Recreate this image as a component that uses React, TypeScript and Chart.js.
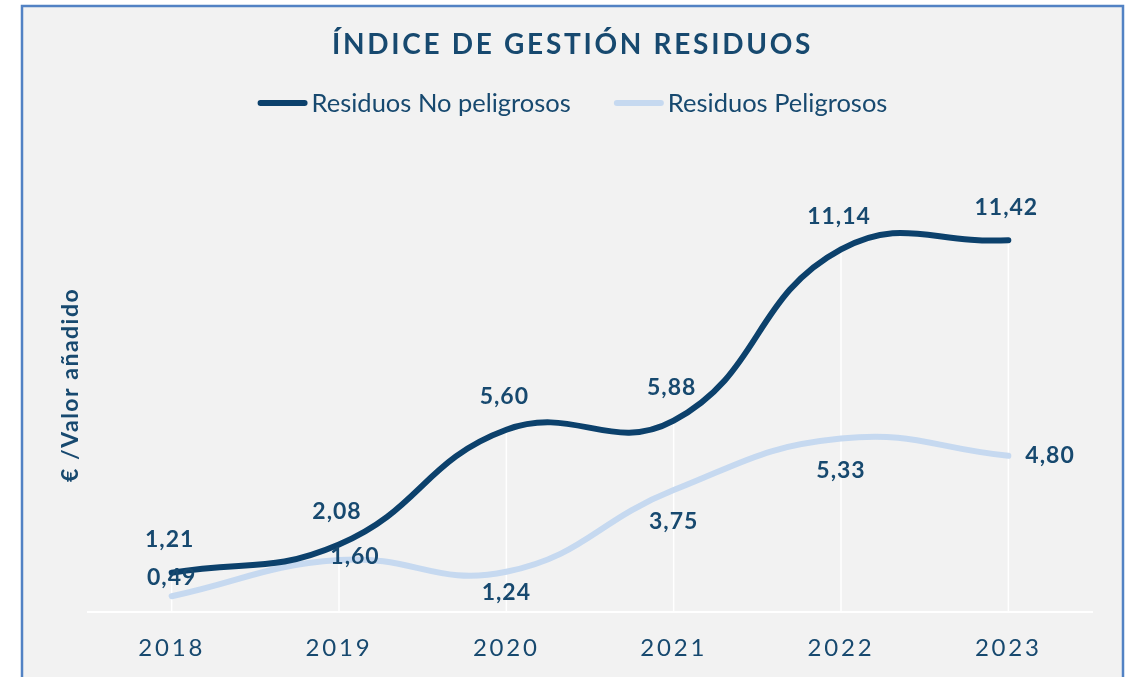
import React, { useEffect, useRef } from 'react';
import { Chart, registerables } from 'chart.js';

Chart.register(...registerables);

// ---- data ----
const years = ['2018', '2019', '2020', '2021', '2022', '2023'];
const noPeligrosos = [1.21, 2.08, 5.6, 5.88, 11.14, 11.42];
const peligrosos = [0.49, 1.6, 1.24, 3.75, 5.33, 4.8];
const seriesNames = ['Residuos No peligrosos', 'Residuos Peligrosos'];
const titleText = 'ÍNDICE DE GESTIÓN RESIDUOS';
const yTitleText = '€ /Valor añadido';
const yMin = 0;
const yMax = 15;

// ---- label placement (style) ----
const darkPlacement = ['above', 'above', 'above', 'above', 'above', 'above'];
const lightPlacement = ['aboveNear', 'near', 'belowNear', 'below', 'below', 'right'];
const OFFSETS: Record<string, [number, number, CanvasTextAlign]> = {
  above: [-2, -33, 'center'],
  aboveNear: [0, -19, 'center'],
  near: [16, -4, 'center'],
  below: [0, 32, 'center'],
  belowNear: [0, 21, 'center'],
  right: [17, 0, 'left'],
};

const DARK = '#0c416c';
const LIGHT = '#c6d9f0';
const TEXT = '#17496f';
const FONT = 'Lato';
const FRAME = '#5282c4';
const BG = '#f2f2f2';

const fmt = (v: number) => v.toFixed(2).replace('.', ',');

function patchSpacing(obj: any, method: string, spacing: string) {
  const flag = '__ls_' + method;
  if (!obj || obj[flag]) return;
  const orig = obj[method];
  obj[method] = function (...args: any[]) {
    const c = this.ctx as any;
    const prev = c.letterSpacing;
    c.letterSpacing = spacing;
    orig.apply(this, args);
    c.letterSpacing = prev || '0px';
  };
  obj[flag] = true;
}

const customPlugin = {
  id: 'custom',
  afterLayout(chart: any) {
    patchSpacing(chart.titleBlock, 'draw', '2.7px');
    patchSpacing(chart.scales.x, 'drawLabels', '2.8px');
  },
  beforeDraw(chart: any) {
    const { ctx, width, height } = chart;
    ctx.save();
    ctx.fillStyle = '#ffffff';
    ctx.fillRect(0, 0, width, height);
    ctx.fillStyle = BG;
    ctx.fillRect(22, 6, 1101, height + 20);
    ctx.strokeStyle = FRAME;
    ctx.lineWidth = 2.5;
    ctx.strokeRect(22, 6, 1101, height + 20);
    ctx.restore();
  },
  beforeDatasetsDraw(chart: any) {
    const { ctx, chartArea } = chart;
    const m0 = chart.getDatasetMeta(0).data;
    const m1 = chart.getDatasetMeta(1).data;
    ctx.save();
    ctx.strokeStyle = '#ffffff';
    ctx.lineWidth = 1.5;
    for (let i = 0; i < m0.length; i++) {
      const x = m0[i].x;
      const top = Math.min(m0[i].y, m1[i] ? m1[i].y : m0[i].y);
      ctx.beginPath();
      ctx.moveTo(x, top);
      ctx.lineTo(x, chartArea.bottom);
      ctx.stroke();
    }
    ctx.restore();

    // y axis title
    ctx.save();
    ctx.translate(chartArea.left - 17, (chartArea.top + chartArea.bottom) / 2 + 17);
    ctx.rotate(-Math.PI / 2);
    (ctx as any).letterSpacing = '1.5px';
    ctx.font = `bold 23px ${FONT}`;
    ctx.fillStyle = TEXT;
    ctx.textAlign = 'center';
    ctx.textBaseline = 'middle';
    ctx.fillText(yTitleText, 0, 0);
    ctx.restore();

    // legend
    const legendY = 103;
    const lineW = 50;
    const gapText = 4;
    const gapItem = 43;
    ctx.save();
    ctx.font = `25.5px ${FONT}`;
    const widths = seriesNames.map((n) => ctx.measureText(n).width);
    const total = widths.reduce((a, w) => a + lineW + gapText + w, 0) + gapItem * (seriesNames.length - 1);
    const tb = chart.titleBlock;
    const cx = (tb.left + tb.right) / 2;
    let x = cx - total / 2;
    const colors = [DARK, LIGHT];
    seriesNames.forEach((n, i) => {
      ctx.strokeStyle = colors[i];
      ctx.lineWidth = 6;
      ctx.lineCap = 'round';
      ctx.beginPath();
      ctx.moveTo(x + 3, legendY);
      ctx.lineTo(x + lineW - 3, legendY);
      ctx.stroke();
      ctx.fillStyle = TEXT;
      ctx.textAlign = 'left';
      ctx.textBaseline = 'middle';
      ctx.fillText(n, x + lineW + gapText, legendY + 1);
      x += lineW + gapText + widths[i] + gapItem;
    });
    ctx.restore();
  },
  afterDatasetsDraw(chart: any) {
    const { ctx } = chart;
    ctx.save();
    (ctx as any).letterSpacing = '1px';
    ctx.font = `bold 23px ${FONT}`;
    ctx.fillStyle = TEXT;
    ctx.textBaseline = 'middle';
    [darkPlacement, lightPlacement].forEach((pl, d) => {
      const meta = chart.getDatasetMeta(d);
      const values = chart.data.datasets[d].data as number[];
      meta.data.forEach((pt: any, i: number) => {
        const [dx, dy, align] = OFFSETS[pl[i]];
        ctx.textAlign = align;
        ctx.fillText(fmt(values[i]), pt.x + dx, pt.y + dy);
      });
    });
    ctx.restore();
  },
};

export default function App() {
  const ref = useRef<HTMLCanvasElement | null>(null);
  useEffect(() => {
    if (!ref.current) return;
    const chart = new Chart(ref.current, {
      type: 'line',
      data: {
        labels: years,
        datasets: [
          {
            label: seriesNames[0],
            data: noPeligrosos,
            borderColor: DARK,
            backgroundColor: DARK,
            borderWidth: 6,
            tension: 0.45,
            pointRadius: 0,
            borderCapStyle: 'round',
          },
          {
            label: seriesNames[1],
            data: peligrosos,
            borderColor: LIGHT,
            backgroundColor: LIGHT,
            borderWidth: 6,
            tension: 0.45,
            pointRadius: 0,
            borderCapStyle: 'round',
          },
        ],
      },
      options: {
        animation: false,
        responsive: true,
        maintainAspectRatio: false,
        layout: { padding: { left: 53, right: 33, top: 0, bottom: -8 } },
        plugins: {
          legend: { display: false },
          tooltip: { enabled: false },
          title: {
            display: true,
            text: titleText,
            color: TEXT,
            font: { family: FONT, size: 28, weight: 'bold' },
            padding: { top: 28, bottom: 62 },
          },
        },
        scales: {
          x: {
            offset: true,
            grid: { display: false, drawTicks: false },
            border: { display: true, color: '#ffffff', width: 2 },
            ticks: { color: TEXT, font: { family: FONT, size: 24 }, padding: 22 },
          },
          y: {
            min: yMin,
            max: yMax,
            grid: { display: false, drawTicks: false },
            border: { display: false },
            ticks: { display: false },
            afterFit: (scale: any) => {
              scale.width = 35;
            },
          },
        },
      },
      plugins: [customPlugin],
    });
    return () => chart.destroy();
  }, []);
  return (
    <div style={{ position: 'fixed', left: 0, top: 0, width: 1125, height: 677 }}>
      <canvas ref={ref} />
    </div>
  );
}
